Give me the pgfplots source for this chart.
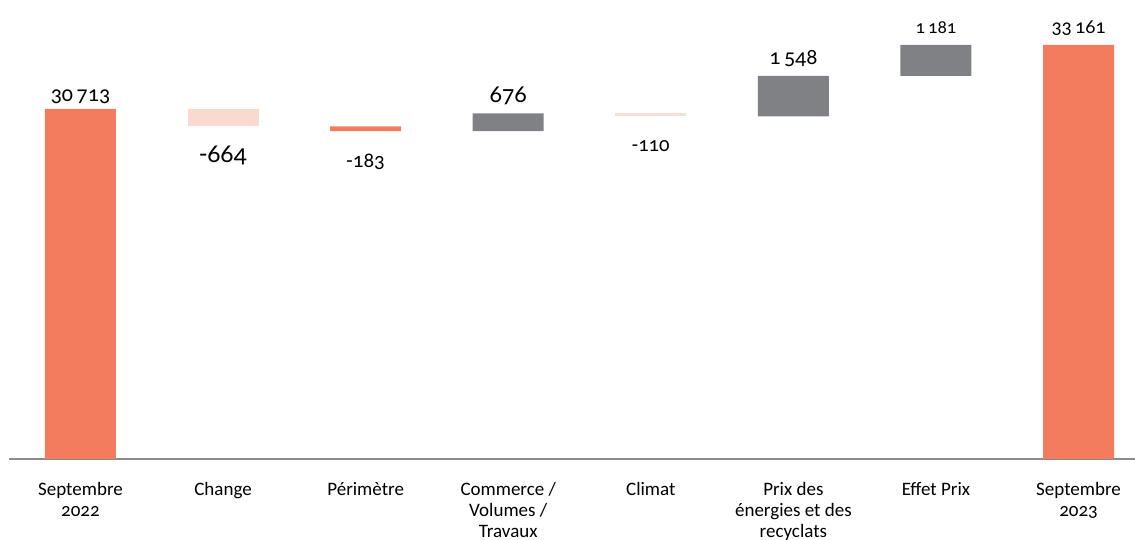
\documentclass[border=0pt]{standalone}
\usepackage{fontspec}
\setmainfont{Carlito}[Numbers=OldStyle]
\usepackage{pgfplots}
\pgfplotsset{compat=1.18}
\definecolor{orng}{RGB}{244,124,94}
\definecolor{pinkA}{RGB}{250,218,207}
\definecolor{pinkB}{RGB}{251,223,213}
\definecolor{gry}{RGB}{128,129,133}
\definecolor{axgry}{RGB}{140,140,140}
\begin{document}
\begin{tikzpicture}
\useasboundingbox (0pt,0pt) rectangle (1135pt,540pt);
\begin{axis}[
  at={(9.2pt,81pt)}, anchor=south west,
  scale only axis, width=1125.8pt, height=459pt,
  xmin=-0.5, xmax=7.396, ymin=17325, ymax=34882,
  ybar stacked, bar width=71pt,
  axis x line*=bottom, axis y line=none,
  axis line style={draw=axgry, line width=1.5pt},
  xtick={0,...,7}, major tick length=0pt,
  xticklabels={{Septembre\\2022},Change,Périmètre,{Commerce /\\Volumes /\\Travaux},Climat,{Prix des\\énergies et des\\recyclats},Effet Prix,{Septembre\\2023}},
  xticklabel style={align=center, anchor=north, inner sep=0pt, yshift=-23pt, font=\fontsize{19}{21}\selectfont},
  ytick=\empty,
  clip mode=individual,
]
\addplot[draw=none, fill=none] coordinates {(0,0) (1,30049) (2,29866) (3,29866) (4,30432) (5,30432) (6,31980) (7,0)};
\addplot[draw=none, fill=orng] coordinates {(0,30713) (1,0) (2,183) (3,0) (4,0) (5,0) (6,0) (7,33161)};
\addplot[draw=none, fill=pinkA] coordinates {(0,0) (1,664) (2,0) (3,0) (4,0) (5,0) (6,0) (7,0)};
\addplot[draw=none, fill=gry] coordinates {(0,0) (1,0) (2,0) (3,676) (4,0) (5,1548) (6,1181) (7,0)};
\addplot[draw=none, fill=pinkB] coordinates {(0,0) (1,0) (2,0) (3,0) (4,110) (5,0) (6,0) (7,0)};
\node[anchor=base, yshift=7.3pt, font=\fontsize{22}{26}\selectfont] at (axis cs:0,30713) {30\,713};
\node[anchor=base, yshift=-36pt, font=\fontsize{26}{30}\selectfont] at (axis cs:1,30049) {-664};
\node[anchor=base, yshift=-36.7pt, font=\fontsize{21}{25}\selectfont] at (axis cs:2,29866) {-183};
\node[anchor=base, yshift=11.3pt, font=\fontsize{24.5}{28}\selectfont] at (axis cs:3,30542) {676};
\node[anchor=base, yshift=-34.7pt, font=\fontsize{20.6}{24}\selectfont] at (axis cs:4,30432) {-110};
\node[anchor=base, yshift=11.7pt, font=\fontsize{22}{26}\selectfont] at (axis cs:5,31980) {1\,548};
\node[anchor=base, yshift=11.7pt, font=\fontsize{18.5}{22}\selectfont] at (axis cs:6,33161) {1\,181};
\node[anchor=base, yshift=11.7pt, font=\fontsize{20}{24}\selectfont] at (axis cs:7,33161) {33\,161};
\end{axis}
\end{tikzpicture}
\end{document}
